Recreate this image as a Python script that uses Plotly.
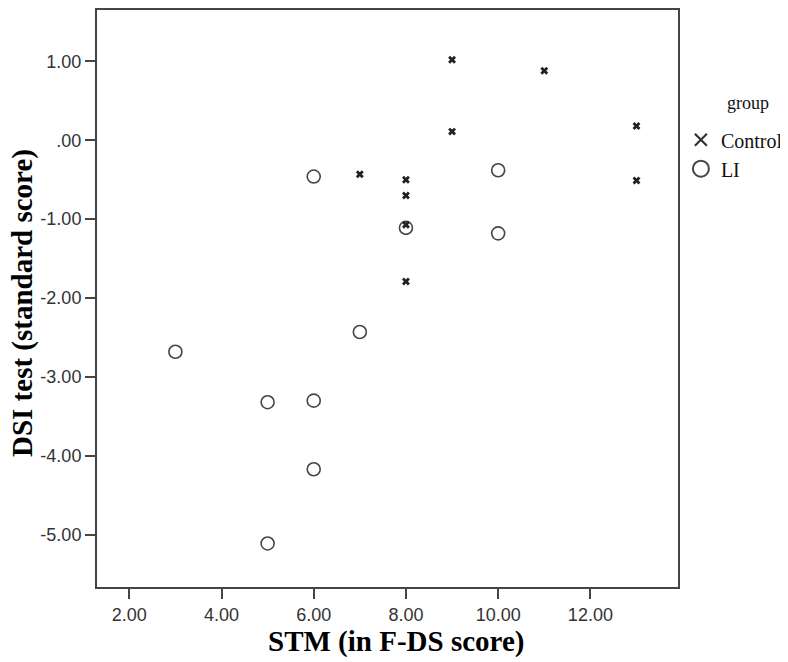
import plotly.graph_objects as go

# Data
control_x = [9, 11, 9, 13, 13, 8, 8, 8, 8, 7]
control_y = [1.02, 0.88, 0.11, 0.18, -0.51, -0.50, -0.70, -1.07, -1.79, -0.43]
li_x = [6, 10, 8, 10, 7, 3, 5, 6, 6, 5]
li_y = [-0.46, -0.38, -1.11, -1.18, -2.43, -2.68, -3.32, -3.30, -4.17, -5.11]

x_tickvals = [2, 4, 6, 8, 10, 12]
x_ticktext = ["2.00", "4.00", "6.00", "8.00", "10.00", "12.00"]
y_tickvals = [1, 0, -1, -2, -3, -4, -5]
y_ticktext = ["1.00", ".00", "-1.00", "-2.00", "-3.00", "-4.00", "-5.00"]

fig = go.Figure()
fig.add_trace(go.Scatter(x=li_x, y=li_y, mode="markers", showlegend=False,
                         marker=dict(symbol="circle-open", size=13, color="#444",
                                     line=dict(width=1.6, color="#444"))))
fig.add_trace(go.Scatter(x=control_x, y=control_y, mode="markers", showlegend=False,
                         marker=dict(symbol="x", size=7, color="#222",
                                     line=dict(width=0))))
# legend entries
fig.add_trace(go.Scatter(x=[None], y=[None], mode="markers", name="Control",
                         marker=dict(symbol="x-thin-open", size=12, color="#333",
                                     line=dict(width=2.2, color="#333"))))
fig.add_trace(go.Scatter(x=[None], y=[None], mode="markers", name="LI",
                         marker=dict(symbol="circle-open", size=16, color="#444",
                                     line=dict(width=2, color="#444"))))

axis_common = dict(showgrid=False, zeroline=False, showline=True, linecolor="#444",
                   linewidth=2, mirror=True, ticks="outside", ticklen=10, tickwidth=2,
                   tickcolor="#444",
                   tickfont=dict(family="Liberation Sans, Arial", size=18, color="#333"))

title_font = dict(family="Liberation Serif, Times New Roman", size=29, color="#000")

fig.update_layout(
    width=780, height=654,
    margin=dict(l=89, r=110, t=2, b=75, autoexpand=False),
    plot_bgcolor="white", paper_bgcolor="white",
    xaxis=dict(range=[1.30, 13.9], tickvals=x_tickvals, ticktext=x_ticktext, **axis_common),
    yaxis=dict(range=[-5.662, 1.651], tickvals=y_tickvals, ticktext=y_ticktext, **axis_common),
    legend=dict(x=1.005, xanchor="left", y=0.809, yanchor="top",
                font=dict(family="Liberation Serif, Times New Roman", size=20, color="#111"),
                bgcolor="rgba(0,0,0,0)", tracegroupgap=0),
    annotations=[
        dict(text="<b>STM (in F-DS score)</b>", xref="paper", yref="paper", x=0.5, y=0,
             xanchor="center", yanchor="middle", xshift=8, yshift=-54,
             showarrow=False, font=title_font),
        dict(text="<b>DSI test (standard score)</b>", xref="paper", yref="paper", x=0, y=0.5,
             xanchor="center", yanchor="middle", xshift=-74.5, yshift=-5, textangle=-90,
             showarrow=False, font=title_font),
        dict(text="group", xref="paper", yref="paper", x=1.12, y=0.839,
             xanchor="center", yanchor="middle", showarrow=False,
             font=dict(family="Liberation Serif, Times New Roman", size=18, color="#111")),
    ],
)

fig.write_html("out.html")
